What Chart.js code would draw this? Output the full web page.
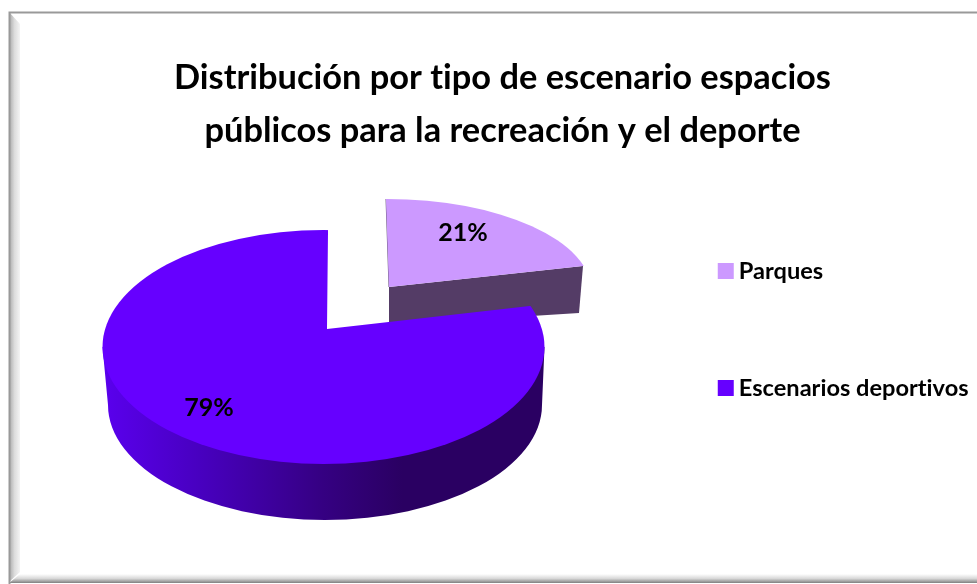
<!DOCTYPE html>
<html>
<head>
<meta charset="utf-8">
<style>
  html, body { margin: 0; padding: 0; background: #fff; }
  canvas { display: block; }
</style>
<script src="https://cdn.jsdelivr.net/npm/chart.js@4"></script>
</head>
<body>
<canvas id="pie" width="977" height="584"></canvas>
<script>
const titleLines = ["Distribución por tipo de escenario espacios", "públicos para la recreación y el deporte"];
const categories = ["Parques", "Escenarios deportivos"];
const shares = [21, 79];
const sliceColors = ["#cc99ff", "#6600ff"];

const FONT = "Lato";

// how each slice is laid on the tilted plane (apex, image of local x and of "up", clip ellipse)
const tilt = [
    { apex: [389, 287], u: [201, 1], t: [-3, -88], k: 1.4, clip: [387, 292, 205, 93] },
    { apex: [327, 329], u: [211, 1], t: [1, -97], k: 2.2, clip: [323.5, 347, 221, 117] },
];
const labelAnchors = [[463, 233], [209, 408]];

function sideGradient(ctx) {
    const g = ctx.createLinearGradient(102, 0, 544, 0);
    g.addColorStop(0, "#5a00ee");
    g.addColorStop(0.22, "#4800c0");
    g.addColorStop(0.5, "#350082");
    g.addColorStop(0.68, "#2a0062");
    g.addColorStop(1, "#2a0062");
    return g;
}

function drawSmallWall(ctx) {
    ctx.fillStyle = "#543c66";
    ctx.beginPath();
    ctx.moveTo(389, 287);
    ctx.lineTo(583, 266);
    ctx.lineTo(579, 313);
    ctx.lineTo(389, 325);
    ctx.closePath();
    ctx.fill();
    ctx.strokeStyle = "#6e5c80";
    ctx.lineWidth = 1;
    ctx.beginPath();
    ctx.moveTo(386, 199);
    ctx.lineTo(389, 287);
    ctx.stroke();
}

function drawBigWall(ctx) {
    ctx.fillStyle = sideGradient(ctx);
    ctx.beginPath();
    ctx.moveTo(102.5, 347);
    ctx.lineTo(108, 405);
    ctx.ellipse(325, 405, 217, 115, 0, Math.PI, 0, true);
    ctx.lineTo(544.5, 347);
    ctx.closePath();
    ctx.fill();
}

function drawSlice(ctx, el, cfg) {
    const s = cfg.k / el.outerRadius;
    ctx.save();
    ctx.beginPath();
    ctx.ellipse(cfg.clip[0], cfg.clip[1], cfg.clip[2], cfg.clip[3], 0, 0, Math.PI * 2);
    ctx.clip();
    ctx.transform(cfg.u[0] * s, cfg.u[1] * s, -cfg.t[0] * s, -cfg.t[1] * s, cfg.apex[0], cfg.apex[1]);
    ctx.translate(-el.x, -el.y);
    el.draw(ctx);
    ctx.restore();
}

const tiltedPie = {
    id: "tiltedPie",
    beforeDraw(chart) {
        const ctx = chart.ctx;
        ctx.textRendering = "optimizeSpeed"; // no "ti" ligature in the title
        ctx.save();
        ctx.fillStyle = "#fff";
        ctx.fillRect(0, 0, chart.width, chart.height);
        // bevelled frame, left side
        const g = ctx.createLinearGradient(9, 0, 20, 0);
        g.addColorStop(0, "#a8a8a8");
        g.addColorStop(0.5, "#dcdcdc");
        g.addColorStop(1, "#f4f4f4");
        ctx.fillStyle = g;
        ctx.beginPath();
        ctx.moveTo(9, 12);
        ctx.lineTo(20, 24);
        ctx.lineTo(20, 572);
        ctx.lineTo(9, 582);
        ctx.closePath();
        ctx.fill();
        // bottom side
        const b = ctx.createLinearGradient(0, 574, 0, 583);
        b.addColorStop(0, "#ffffff");
        b.addColorStop(0.5, "#d8d8d8");
        b.addColorStop(1, "#808080");
        ctx.fillStyle = b;
        ctx.beginPath();
        ctx.moveTo(9, 583);
        ctx.lineTo(20, 574);
        ctx.lineTo(977, 574);
        ctx.lineTo(977, 583);
        ctx.closePath();
        ctx.fill();
        ctx.strokeStyle = "#999";
        ctx.lineWidth = 2;
        ctx.beginPath();
        ctx.moveTo(977, 12.5);
        ctx.lineTo(9.5, 12.5);
        ctx.lineTo(9.5, 584);
        ctx.stroke();
        ctx.restore();
    },
    beforeDatasetDraw(chart, args) {
        const ctx = chart.ctx;
        const arcs = args.meta.data;
        ctx.save();
        drawSmallWall(ctx);
        drawSlice(ctx, arcs[0], tilt[0]);
        drawBigWall(ctx);
        drawSlice(ctx, arcs[1], tilt[1]);
        ctx.restore();
        return false;
    },
    afterDraw(chart) {
        const ctx = chart.ctx;
        ctx.save();
        ctx.fillStyle = "#000";
        ctx.font = "bold 25px " + FONT;
        ctx.textAlign = "center";
        ctx.textBaseline = "middle";
        shares.forEach((v, i) => {
            ctx.fillText(v + "%", labelAnchors[i][0], labelAnchors[i][1]);
        });
        ctx.restore();
    },
};

new Chart(document.getElementById("pie"), {
    type: "pie",
    plugins: [tiltedPie],
    data: {
        labels: categories,
        datasets: [{ data: shares, backgroundColor: sliceColors, borderWidth: 0 }],
    },
    options: {
        responsive: false,
        animation: false,
        devicePixelRatio: 1,
        layout: { padding: { left: 26, right: -2, top: 0, bottom: -75 } },
        plugins: {
            title: {
                display: true,
                text: titleLines,
                color: "#000",
                font: { family: FONT, size: 34.4, weight: "bold", lineHeight: 1.52 },
                padding: { top: 52, bottom: 20 },
            },
            legend: {
                position: "right",
                labels: {
                    color: "#000",
                    font: { family: FONT, size: 23.6, weight: "bold" },
                    usePointStyle: true,
                    pointStyle: "rect",
                    boxWidth: 2.5,
                    boxHeight: 16,
                    padding: 93.4,
                },
            },
            tooltip: { enabled: false },
        },
    },
});
</script>
</body>
</html>
